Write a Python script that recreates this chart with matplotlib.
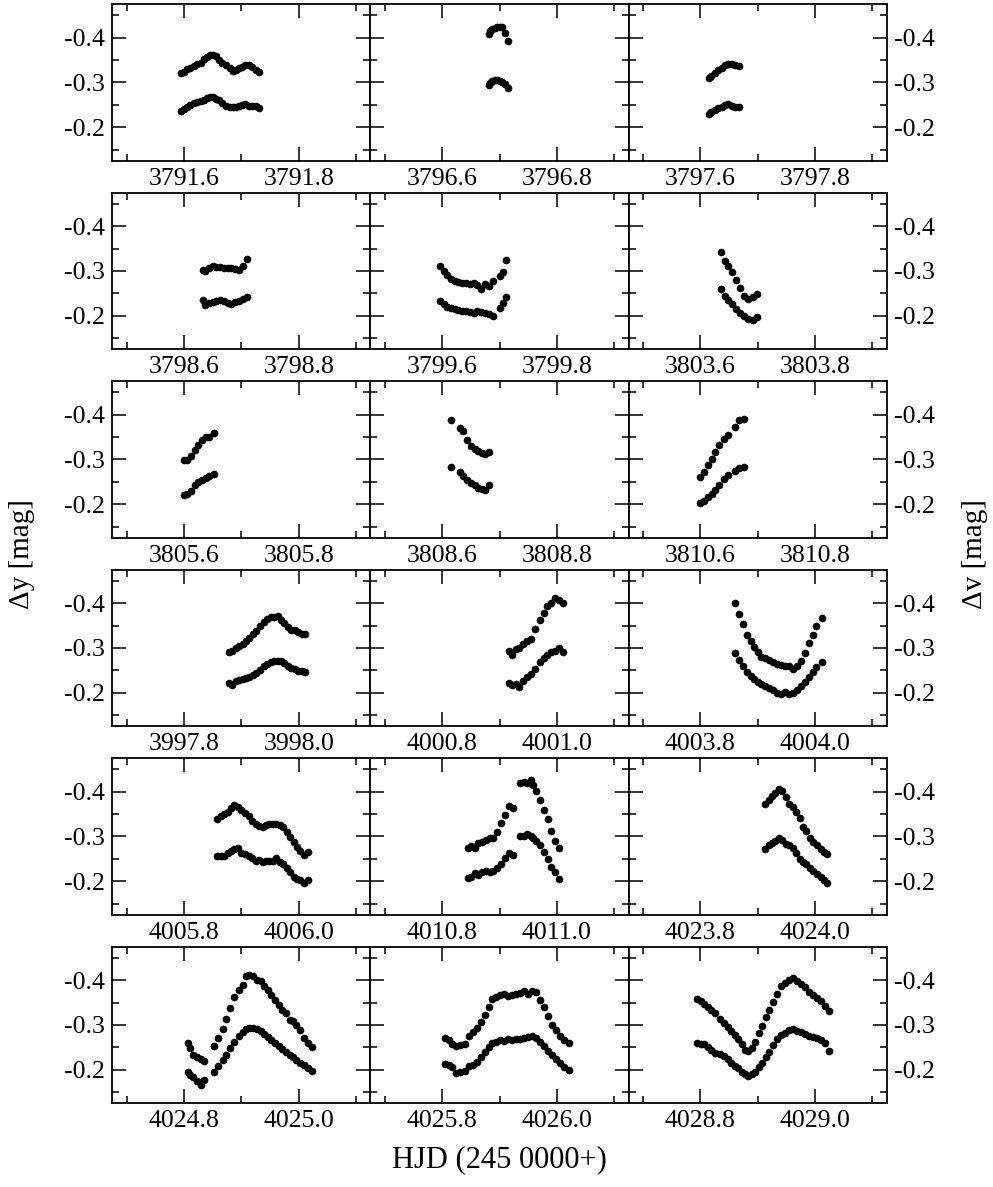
import matplotlib.pyplot as plt
from matplotlib.ticker import MultipleLocator, FormatStrFormatter

plt.rcParams['font.family'] = ['Liberation Serif', 'DejaVu Serif']
plt.rcParams['axes.unicode_minus'] = False

# first labelled HJD tick of each night (row by row)
first_tick = [3791.6, 3796.6, 3797.6,
              3798.6, 3799.6, 3803.6,
              3805.6, 3808.6, 3810.6,
              3997.8, 4000.8, 4003.8,
              4005.8, 4010.8, 4023.8,
              4024.8, 4025.8, 4028.8]

hjd_3791 = [3791.594, 3791.600, 3791.605, 3791.611, 3791.617, 3791.623, 3791.629, 3791.634, 3791.640,
            3791.645, 3791.650, 3791.655, 3791.661, 3791.667, 3791.674, 3791.680, 3791.685, 3791.690,
            3791.696, 3791.701, 3791.707, 3791.713, 3791.719, 3791.725, 3791.731]
dv_3791 = [-0.320, -0.323, -0.329, -0.333, -0.336, -0.340, -0.344, -0.352, -0.357, -0.361, -0.361, -0.358,
           -0.350, -0.344, -0.338, -0.332, -0.326, -0.327, -0.332, -0.335, -0.338, -0.338, -0.335, -0.328, -0.323]
dy_3791 = [-0.236, -0.241, -0.245, -0.250, -0.253, -0.257, -0.259, -0.261, -0.265, -0.268, -0.268, -0.264,
           -0.260, -0.254, -0.248, -0.245, -0.245, -0.244, -0.247, -0.249, -0.251, -0.248, -0.247, -0.248, -0.243]

hjd_3796 = [3796.681, 3796.684, 3796.687, 3796.692, 3796.696, 3796.700, 3796.704, 3796.709, 3796.715]
dv_3796 = [-0.409, -0.415, -0.420, -0.422, -0.423, -0.424, -0.424, -0.410, -0.393]
dy_3796 = [-0.294, -0.298, -0.303, -0.306, -0.306, -0.303, -0.300, -0.297, -0.288]

hjd_3797 = [3797.615, 3797.619, 3797.625, 3797.631, 3797.637, 3797.643, 3797.649, 3797.655, 3797.661, 3797.667]
dv_3797 = [-0.309, -0.315, -0.322, -0.327, -0.333, -0.338, -0.342, -0.341, -0.339, -0.336]
dy_3797 = [-0.230, -0.234, -0.239, -0.242, -0.245, -0.250, -0.251, -0.248, -0.246, -0.246]

hjd_3798 = [3798.633, 3798.637, 3798.643, 3798.650, 3798.656, 3798.663, 3798.670, 3798.676, 3798.682,
            3798.689, 3798.695, 3798.702, 3798.709]
dv_3798 = [-0.303, -0.299, -0.307, -0.311, -0.309, -0.308, -0.306, -0.306, -0.306, -0.305, -0.303, -0.311, -0.326]
dy_3798 = [-0.235, -0.224, -0.229, -0.231, -0.233, -0.236, -0.233, -0.229, -0.227, -0.230, -0.233, -0.238, -0.242]

hjd_3799 = [3799.596, 3799.603, 3799.609, 3799.615, 3799.622, 3799.628, 3799.635, 3799.642, 3799.648,
            3799.655, 3799.661, 3799.668, 3799.674, 3799.682, 3799.689, 3799.700, 3799.706, 3799.712]
dv_3799 = [-0.312, -0.299, -0.291, -0.283, -0.278, -0.275, -0.273, -0.272, -0.271, -0.272, -0.269, -0.259,
           -0.270, -0.266, -0.277, -0.288, -0.297, -0.324]
dy_3799 = [-0.233, -0.225, -0.220, -0.217, -0.215, -0.213, -0.211, -0.210, -0.208, -0.205, -0.210, -0.208,
           -0.207, -0.204, -0.199, -0.218, -0.229, -0.242]

hjd_3803 = [3803.636, 3803.643, 3803.649, 3803.656, 3803.663, 3803.669, 3803.676, 3803.683, 3803.691, 3803.698]
dv_3803 = [-0.343, -0.323, -0.311, -0.298, -0.280, -0.261, -0.245, -0.238, -0.242, -0.248]
dy_3803 = [-0.259, -0.244, -0.235, -0.227, -0.216, -0.205, -0.199, -0.193, -0.190, -0.196]

hjd_3805 = [3805.600, 3805.606, 3805.612, 3805.619, 3805.625, 3805.632, 3805.638, 3805.644, 3805.652]
dv_3805 = [-0.298, -0.299, -0.307, -0.320, -0.333, -0.344, -0.350, -0.349, -0.358]
dy_3805 = [-0.221, -0.222, -0.230, -0.243, -0.250, -0.254, -0.259, -0.264, -0.268]

hjd_3808 = [3808.615, 3808.631, 3808.637, 3808.644, 3808.651, 3808.657, 3808.663, 3808.669, 3808.675, 3808.682]
dv_3808 = [-0.387, -0.370, -0.364, -0.344, -0.331, -0.323, -0.318, -0.315, -0.312, -0.316]
dy_3808 = [-0.283, -0.271, -0.262, -0.254, -0.247, -0.242, -0.236, -0.233, -0.231, -0.242]

hjd_3810 = [3810.600, 3810.607, 3810.614, 3810.620, 3810.626, 3810.633, 3810.641, 3810.648, 3810.660,
            3810.668, 3810.676]
dv_3810 = [-0.260, -0.272, -0.287, -0.301, -0.317, -0.332, -0.346, -0.355, -0.372, -0.387, -0.390]
dy_3810 = [-0.203, -0.207, -0.216, -0.223, -0.231, -0.243, -0.257, -0.265, -0.274, -0.281, -0.282]

hjd_3997 = [3997.878, 3997.884, 3997.890, 3997.896, 3997.902, 3997.908, 3997.914, 3997.920, 3997.926,
            3997.932, 3997.939, 3997.945, 3997.951, 3997.957, 3997.963, 3997.969, 3997.975, 3997.981,
            3997.987, 3997.993, 3997.999, 3998.005, 3998.011]
dv_3997 = [-0.290, -0.294, -0.299, -0.304, -0.309, -0.315, -0.323, -0.332, -0.338, -0.348, -0.358, -0.365,
           -0.368, -0.370, -0.372, -0.363, -0.355, -0.346, -0.339, -0.341, -0.336, -0.331, -0.331]
dy_3997 = [-0.222, -0.217, -0.227, -0.229, -0.230, -0.233, -0.236, -0.239, -0.244, -0.251, -0.259, -0.265,
           -0.269, -0.271, -0.271, -0.271, -0.266, -0.260, -0.255, -0.253, -0.249, -0.248, -0.246]

hjd_4000 = [4000.917, 4000.922, 4000.928, 4000.934, 4000.941, 4000.948, 4000.955, 4000.962, 4000.970,
            4000.977, 4000.983, 4000.990, 4000.997, 4001.003, 4001.010]
dv_4000 = [-0.294, -0.285, -0.297, -0.299, -0.309, -0.315, -0.321, -0.342, -0.363, -0.378, -0.393, -0.400,
           -0.411, -0.407, -0.400]
dy_4000 = [-0.222, -0.217, -0.220, -0.213, -0.227, -0.235, -0.241, -0.254, -0.268, -0.277, -0.285, -0.291,
           -0.293, -0.299, -0.292]

hjd_4003 = [4003.861, 4003.868, 4003.874, 4003.881, 4003.888, 4003.894, 4003.900, 4003.906, 4003.913,
            4003.920, 4003.927, 4003.934, 4003.941, 4003.948, 4003.955, 4003.962, 4003.969, 4003.975,
            4003.982, 4003.990, 4003.996, 4004.002, 4004.012]
dv_4003 = [-0.401, -0.376, -0.354, -0.330, -0.315, -0.301, -0.290, -0.280, -0.278, -0.274, -0.268, -0.265,
           -0.262, -0.260, -0.259, -0.254, -0.259, -0.270, -0.288, -0.312, -0.330, -0.348, -0.366]
dy_4003 = [-0.288, -0.272, -0.260, -0.246, -0.238, -0.230, -0.224, -0.219, -0.214, -0.210, -0.207, -0.200,
           -0.198, -0.201, -0.197, -0.200, -0.206, -0.214, -0.224, -0.235, -0.247, -0.257, -0.268]

hjd_4005 = [4005.858, 4005.864, 4005.870, 4005.876, 4005.882, 4005.888, 4005.894, 4005.900, 4005.906,
            4005.913, 4005.919, 4005.925, 4005.931, 4005.937, 4005.943, 4005.949, 4005.955, 4005.961,
            4005.967, 4005.973, 4005.979, 4005.985, 4005.991, 4005.997, 4006.003, 4006.010, 4006.016]
dv_4005 = [-0.338, -0.346, -0.351, -0.355, -0.364, -0.370, -0.365, -0.359, -0.353, -0.346, -0.335, -0.328,
           -0.323, -0.322, -0.326, -0.327, -0.328, -0.327, -0.326, -0.320, -0.309, -0.299, -0.287, -0.277,
           -0.267, -0.259, -0.265]
dy_4005 = [-0.257, -0.256, -0.257, -0.262, -0.268, -0.271, -0.274, -0.264, -0.260, -0.257, -0.251, -0.245,
           -0.247, -0.244, -0.246, -0.246, -0.245, -0.251, -0.244, -0.238, -0.229, -0.220, -0.210, -0.204,
           -0.202, -0.196, -0.203]

hjd_4010 = [4010.845, 4010.851, 4010.857, 4010.863, 4010.870, 4010.877, 4010.883, 4010.889, 4010.896,
            4010.903, 4010.910, 4010.916, 4010.923, 4010.936, 4010.942, 4010.948, 4010.954, 4010.958,
            4010.964, 4010.971, 4010.977, 4010.984, 4010.990, 4010.997, 4011.003]
dv_4010 = [-0.274, -0.278, -0.275, -0.285, -0.288, -0.291, -0.296, -0.297, -0.311, -0.329, -0.348, -0.367,
           -0.364, -0.419, -0.421, -0.419, -0.425, -0.416, -0.401, -0.381, -0.358, -0.339, -0.312, -0.290,
           -0.274]
dy_4010 = [-0.208, -0.210, -0.218, -0.214, -0.220, -0.222, -0.220, -0.222, -0.230, -0.238, -0.251, -0.262,
           -0.259, -0.300, -0.302, -0.305, -0.302, -0.297, -0.289, -0.280, -0.265, -0.250, -0.232, -0.220,
           -0.205]

hjd_4023 = [4023.913, 4023.919, 4023.925, 4023.931, 4023.937, 4023.943, 4023.949, 4023.955, 4023.961,
            4023.967, 4023.973, 4023.979, 4023.985, 4023.991, 4023.997, 4024.003, 4024.010, 4024.016, 4024.020]
dv_4023 = [-0.372, -0.381, -0.390, -0.398, -0.406, -0.402, -0.387, -0.373, -0.366, -0.355, -0.342, -0.322,
           -0.312, -0.297, -0.288, -0.280, -0.272, -0.266, -0.260]
dy_4023 = [-0.272, -0.280, -0.285, -0.290, -0.296, -0.292, -0.284, -0.280, -0.275, -0.262, -0.250, -0.244,
           -0.238, -0.230, -0.223, -0.216, -0.210, -0.203, -0.196]

hjd_4024 = [4024.807, 4024.811, 4024.816, 4024.823, 4024.829, 4024.835, 4024.853, 4024.860, 4024.868,
            4024.874, 4024.881, 4024.888, 4024.895, 4024.902, 4024.908, 4024.914, 4024.921, 4024.927,
            4024.934, 4024.940, 4024.946, 4024.952, 4024.958, 4024.965, 4024.971, 4024.977, 4024.984,
            4024.990, 4024.996, 4025.002, 4025.009, 4025.016, 4025.023]
dv_4024 = [-0.259, -0.248, -0.233, -0.228, -0.223, -0.219, -0.253, -0.272, -0.290, -0.314, -0.339, -0.363,
           -0.379, -0.390, -0.410, -0.411, -0.409, -0.401, -0.398, -0.387, -0.378, -0.367, -0.355, -0.344,
           -0.333, -0.326, -0.312, -0.309, -0.300, -0.288, -0.272, -0.260, -0.250]
dy_4024 = [-0.196, -0.188, -0.183, -0.175, -0.166, -0.178, -0.196, -0.208, -0.222, -0.234, -0.248, -0.262,
           -0.275, -0.285, -0.290, -0.293, -0.294, -0.292, -0.287, -0.280, -0.274, -0.267, -0.260, -0.253,
           -0.246, -0.240, -0.234, -0.228, -0.222, -0.216, -0.211, -0.204, -0.198]

hjd_4025 = [4025.805, 4025.812, 4025.818, 4025.824, 4025.831, 4025.839, 4025.846, 4025.853, 4025.860,
            4025.867, 4025.874, 4025.881, 4025.887, 4025.894, 4025.901, 4025.908, 4025.915, 4025.922,
            4025.929, 4025.936, 4025.943, 4025.950, 4025.957, 4025.964, 4025.971, 4025.977, 4025.984,
            4025.991, 4025.998, 4026.005, 4026.012, 4026.021]
dv_4025 = [-0.270, -0.266, -0.257, -0.254, -0.255, -0.257, -0.275, -0.284, -0.294, -0.307, -0.322, -0.341,
           -0.359, -0.363, -0.367, -0.370, -0.364, -0.367, -0.369, -0.372, -0.375, -0.370, -0.375, -0.374,
           -0.355, -0.341, -0.320, -0.300, -0.288, -0.275, -0.266, -0.260]
dy_4025 = [-0.213, -0.210, -0.205, -0.193, -0.196, -0.198, -0.208, -0.210, -0.218, -0.228, -0.239, -0.251,
           -0.259, -0.262, -0.266, -0.265, -0.268, -0.266, -0.269, -0.268, -0.272, -0.274, -0.275, -0.270,
           -0.262, -0.253, -0.242, -0.233, -0.223, -0.214, -0.205, -0.199]

hjd_4028 = [4028.795, 4028.801, 4028.807, 4028.813, 4028.819, 4028.825, 4028.835, 4028.842, 4028.848,
            4028.854, 4028.860, 4028.866, 4028.872, 4028.878, 4028.884, 4028.890, 4028.896, 4028.902,
            4028.908, 4028.914, 4028.920, 4028.927, 4028.934, 4028.941, 4028.948, 4028.955, 4028.962,
            4028.969, 4028.976, 4028.983, 4028.990, 4028.997, 4029.003, 4029.010, 4029.017, 4029.024]
dv_4028 = [-0.359, -0.353, -0.346, -0.341, -0.333, -0.326, -0.314, -0.305, -0.296, -0.286, -0.277, -0.268,
           -0.257, -0.244, -0.242, -0.248, -0.262, -0.281, -0.298, -0.318, -0.333, -0.352, -0.370, -0.387,
           -0.394, -0.400, -0.406, -0.399, -0.391, -0.384, -0.374, -0.367, -0.361, -0.354, -0.342, -0.332]
dy_4028 = [-0.260, -0.257, -0.257, -0.251, -0.244, -0.238, -0.236, -0.230, -0.223, -0.214, -0.208, -0.203,
           -0.196, -0.190, -0.186, -0.190, -0.196, -0.205, -0.216, -0.229, -0.240, -0.255, -0.268, -0.277,
           -0.283, -0.288, -0.292, -0.287, -0.285, -0.280, -0.275, -0.274, -0.272, -0.266, -0.259, -0.242]

nights = [(hjd_3791, dv_3791, dy_3791), (hjd_3796, dv_3796, dy_3796), (hjd_3797, dv_3797, dy_3797),
          (hjd_3798, dv_3798, dy_3798), (hjd_3799, dv_3799, dy_3799), (hjd_3803, dv_3803, dy_3803),
          (hjd_3805, dv_3805, dy_3805), (hjd_3808, dv_3808, dy_3808), (hjd_3810, dv_3810, dy_3810),
          (hjd_3997, dv_3997, dy_3997), (hjd_4000, dv_4000, dy_4000), (hjd_4003, dv_4003, dy_4003),
          (hjd_4005, dv_4005, dy_4005), (hjd_4010, dv_4010, dy_4010), (hjd_4023, dv_4023, dy_4023),
          (hjd_4024, dv_4024, dy_4024), (hjd_4025, dv_4025, dy_4025), (hjd_4028, dv_4028, dy_4028)]

fig, axes = plt.subplots(6, 3, figsize=(9.93, 11.87), dpi=100)
fig.subplots_adjust(left=0.1131, right=0.8930, top=0.9966, bottom=0.0705, wspace=0, hspace=0.203)

for k, ax in enumerate(axes.flat):
    t, dv, dy = nights[k]
    ax.plot(t, dv, 'o', ms=5.5, color='k', mec='none')
    ax.plot(t, dy, 'o', ms=5.5, color='k', mec='none')

    ax.set_xlim(first_tick[k] - 0.125, first_tick[k] + 0.325)
    ax.set_ylim(-0.125, -0.475)

    ax.xaxis.set_major_locator(MultipleLocator(0.2))
    ax.xaxis.set_minor_locator(MultipleLocator(0.1))
    ax.xaxis.set_major_formatter(FormatStrFormatter('%.1f'))
    ax.yaxis.set_major_locator(MultipleLocator(0.1))
    ax.yaxis.set_minor_locator(MultipleLocator(0.05))
    ax.yaxis.set_major_formatter(FormatStrFormatter('%.1f'))

    col = k % 3
    ax.tick_params(which='both', direction='in', top=True, right=True, width=1.1,
                   labelsize=18.5, labelleft=(col == 0), labelright=(col == 2))
    ax.tick_params(which='major', length=10, pad=5)
    ax.tick_params(which='minor', length=5)
    for sp in ax.spines.values():
        sp.set_linewidth(1.3)

fig.text(0.022, 0.5336, 'Δy [mag]', rotation=90, ha='center', va='center', fontsize=21)
fig.text(0.982, 0.5336, 'Δv [mag]', rotation=90, ha='center', va='center', fontsize=21)
fig.text(0.503, 0.0227, 'HJD (245 0000+)', ha='center', va='center', fontsize=22)

fig.savefig('out.png', dpi=100)
